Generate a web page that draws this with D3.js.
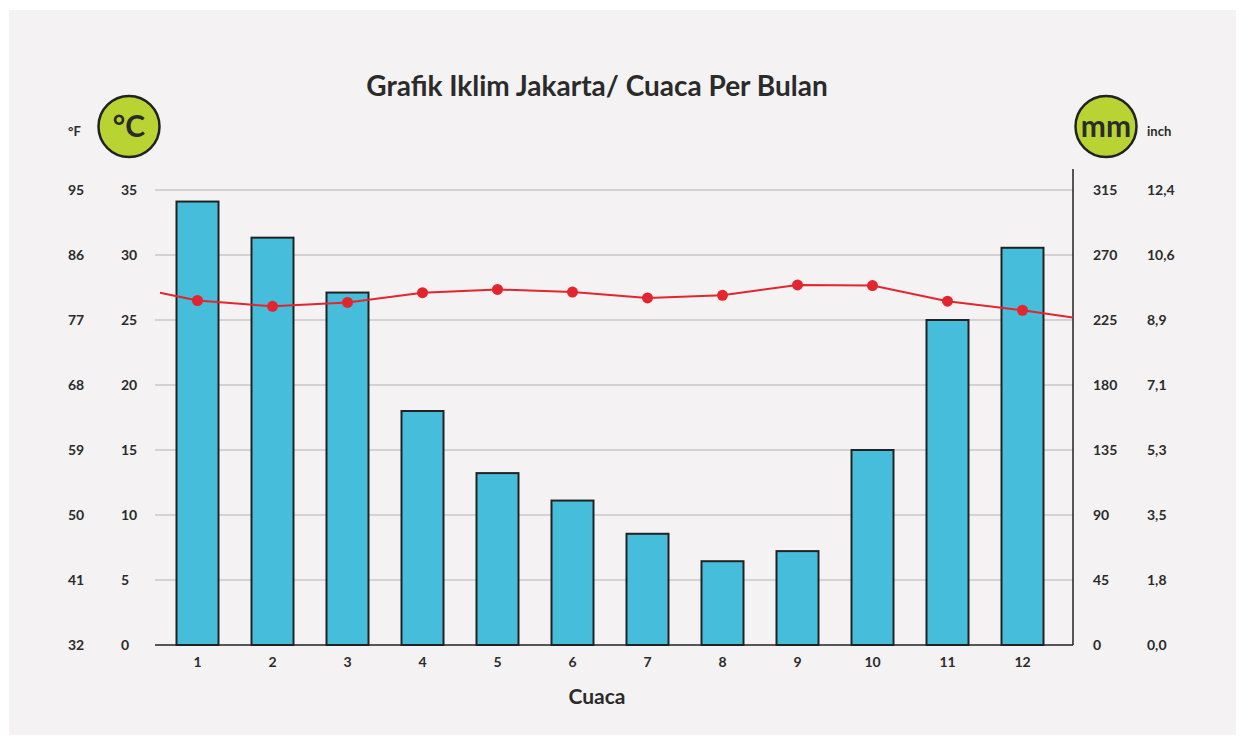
<!DOCTYPE html>
<html>
<head>
<meta charset="utf-8">
<script src="https://cdn.jsdelivr.net/npm/d3@7"></script>
<style>
  body { margin: 0; background: #fff; font-family: Lato, "Open Sans", sans-serif; }
  svg text { font-family: Lato, "Open Sans", sans-serif; font-weight: 700; fill: #2b2b2b; }
</style>
</head>
<body>
<svg id="chart" width="1245" height="744"></svg>
<script>
// data
const months = [1, 2, 3, 4, 5, 6, 7, 8, 9, 10, 11, 12];
const rainfall = [307, 282, 244, 162, 119, 100, 77, 58, 65, 135, 225, 275]; // mm
const temperature = [26.5, 26.05, 26.35, 27.1, 27.35, 27.15, 26.7, 26.9, 27.7, 27.65, 26.45, 25.75]; // °C
const lineEdgeMonths = [0.5, 12.67];
const lineEdgeTemps = [27.1, 25.2];

const celsiusTicks = [0, 5, 10, 15, 20, 25, 30, 35];
const fahrenheitLabels = ["32", "41", "50", "59", "68", "77", "86", "95"];
const mmTicks = [0, 45, 90, 135, 180, 225, 270, 315];
const inchLabels = ["0,0", "1,8", "3,5", "5,3", "7,1", "8,9", "10,6", "12,4"];

const svg = d3.select('#chart');

const plot = {left: 155, right: 1073, top: 190, bottom: 645};

// background panel
svg.append('rect')
    .attr('x', 9).attr('y', 10)
    .attr('width', 1227).attr('height', 725)
    .attr('fill', '#f4f2f3');

const x = d3.scaleBand().domain(months).range([160, 1060]).paddingInner(0.44).paddingOuter(0.22);
const xc = d3.scaleLinear().domain([1, 12]).range([x(1) + x.bandwidth() / 2, x(12) + x.bandwidth() / 2]);
const yT = d3.scaleLinear().domain([0, 35]).range([plot.bottom, plot.top]);
const yR = d3.scaleLinear().domain([0, 315]).range([plot.bottom, plot.top]);

// grid
svg.append('g').attr('class', 'grid')
    .selectAll('line')
    .data(celsiusTicks.slice(1))
    .join('line')
    .attr('x1', plot.left).attr('x2', plot.right)
    .attr('y1', d => yT(d)).attr('y2', d => yT(d))
    .attr('stroke', '#b3b1b2').attr('stroke-width', 1.2);

// bars
svg.append('g')
    .selectAll('rect')
    .data(months)
    .join('rect')
    .attr('x', d => x(d))
    .attr('y', (d, i) => yR(rainfall[i]))
    .attr('width', x.bandwidth())
    .attr('height', (d, i) => yR(0) - yR(rainfall[i]))
    .attr('fill', '#46bdda')
    .attr('stroke', '#222')
    .attr('stroke-width', 2);

// axes lines
svg.append('line')
    .attr('x1', plot.left).attr('x2', plot.right)
    .attr('y1', plot.bottom).attr('y2', plot.bottom)
    .attr('stroke', '#222').attr('stroke-width', 1.5);
svg.append('line')
    .attr('x1', plot.right).attr('x2', plot.right)
    .attr('y1', 169).attr('y2', plot.bottom)
    .attr('stroke', '#222').attr('stroke-width', 1.5);

// temperature line
const linePts = [{m: lineEdgeMonths[0], t: lineEdgeTemps[0]}]
    .concat(months.map((m, i) => ({m: m, t: temperature[i]})))
    .concat([{m: lineEdgeMonths[1], t: lineEdgeTemps[1]}]);
const line = d3.line().x(d => xc(d.m)).y(d => yT(d.t));
svg.append('path')
    .attr('d', line(linePts))
    .attr('fill', 'none')
    .attr('stroke', '#e3252f')
    .attr('stroke-width', 2);
svg.append('g')
    .selectAll('circle')
    .data(months)
    .join('circle')
    .attr('cx', d => xc(d))
    .attr('cy', (d, i) => yT(temperature[i]))
    .attr('r', 5.5)
    .attr('fill', '#e3252f');

// tick labels
const tickFont = 14;
const leftLabels = svg.append('g');
leftLabels.selectAll('text.c')
    .data(celsiusTicks)
    .join('text')
    .attr('x', 121).attr('y', d => yT(d))
    .attr('dy', '0.35em')
    .attr('font-size', tickFont)
    .text(d => d);
leftLabels.selectAll('text.f')
    .data(celsiusTicks)
    .join('text')
    .attr('x', 68).attr('y', d => yT(d))
    .attr('dy', '0.35em')
    .attr('font-size', tickFont)
    .text((d, i) => fahrenheitLabels[i]);

const rightLabels = svg.append('g');
rightLabels.selectAll('text.mm')
    .data(mmTicks)
    .join('text')
    .attr('x', 1093).attr('y', d => yR(d))
    .attr('dy', '0.35em')
    .attr('font-size', tickFont)
    .text(d => d);
rightLabels.selectAll('text.in')
    .data(mmTicks)
    .join('text')
    .attr('x', 1147).attr('y', d => yR(d))
    .attr('dy', '0.35em')
    .attr('font-size', tickFont)
    .text((d, i) => inchLabels[i]);

// x labels
svg.append('g')
    .selectAll('text')
    .data(months)
    .join('text')
    .attr('x', d => xc(d)).attr('y', 662)
    .attr('dy', '0.35em')
    .attr('text-anchor', 'middle')
    .attr('font-size', tickFont)
    .text(d => d);

svg.append('text')
    .attr('x', 597).attr('y', 697)
    .attr('dy', '0.35em')
    .attr('text-anchor', 'middle')
    .attr('font-size', 21)
    .text('Cuaca');

// title
svg.append('text')
    .attr('x', 597).attr('y', 86)
    .attr('dy', '0.35em')
    .attr('text-anchor', 'middle')
    .attr('font-size', 28)
    .text('Grafik Iklim Jakarta/ Cuaca Per Bulan');

// unit badges
const badges = [
    {cx: 129, label: '°C'},
    {cx: 1106, label: 'mm'}
];
badges.forEach(b => {
    svg.append('circle')
        .attr('cx', b.cx).attr('cy', 126.5).attr('r', 30.5)
        .attr('fill', '#b9d432')
        .attr('stroke', '#222')
        .attr('stroke-width', 2.5);
    svg.append('text')
        .attr('x', b.cx).attr('y', 126.5)
        .attr('dy', '0.35em')
        .attr('text-anchor', 'middle')
        .attr('font-size', 30)
        .text(b.label);
});

svg.append('text')
    .attr('x', 68).attr('y', 131)
    .attr('dy', '0.35em')
    .attr('font-size', 13)
    .text('°F');
svg.append('text')
    .attr('x', 1147).attr('y', 131)
    .attr('dy', '0.35em')
    .attr('font-size', 13)
    .text('inch');
</script>
</body>
</html>
